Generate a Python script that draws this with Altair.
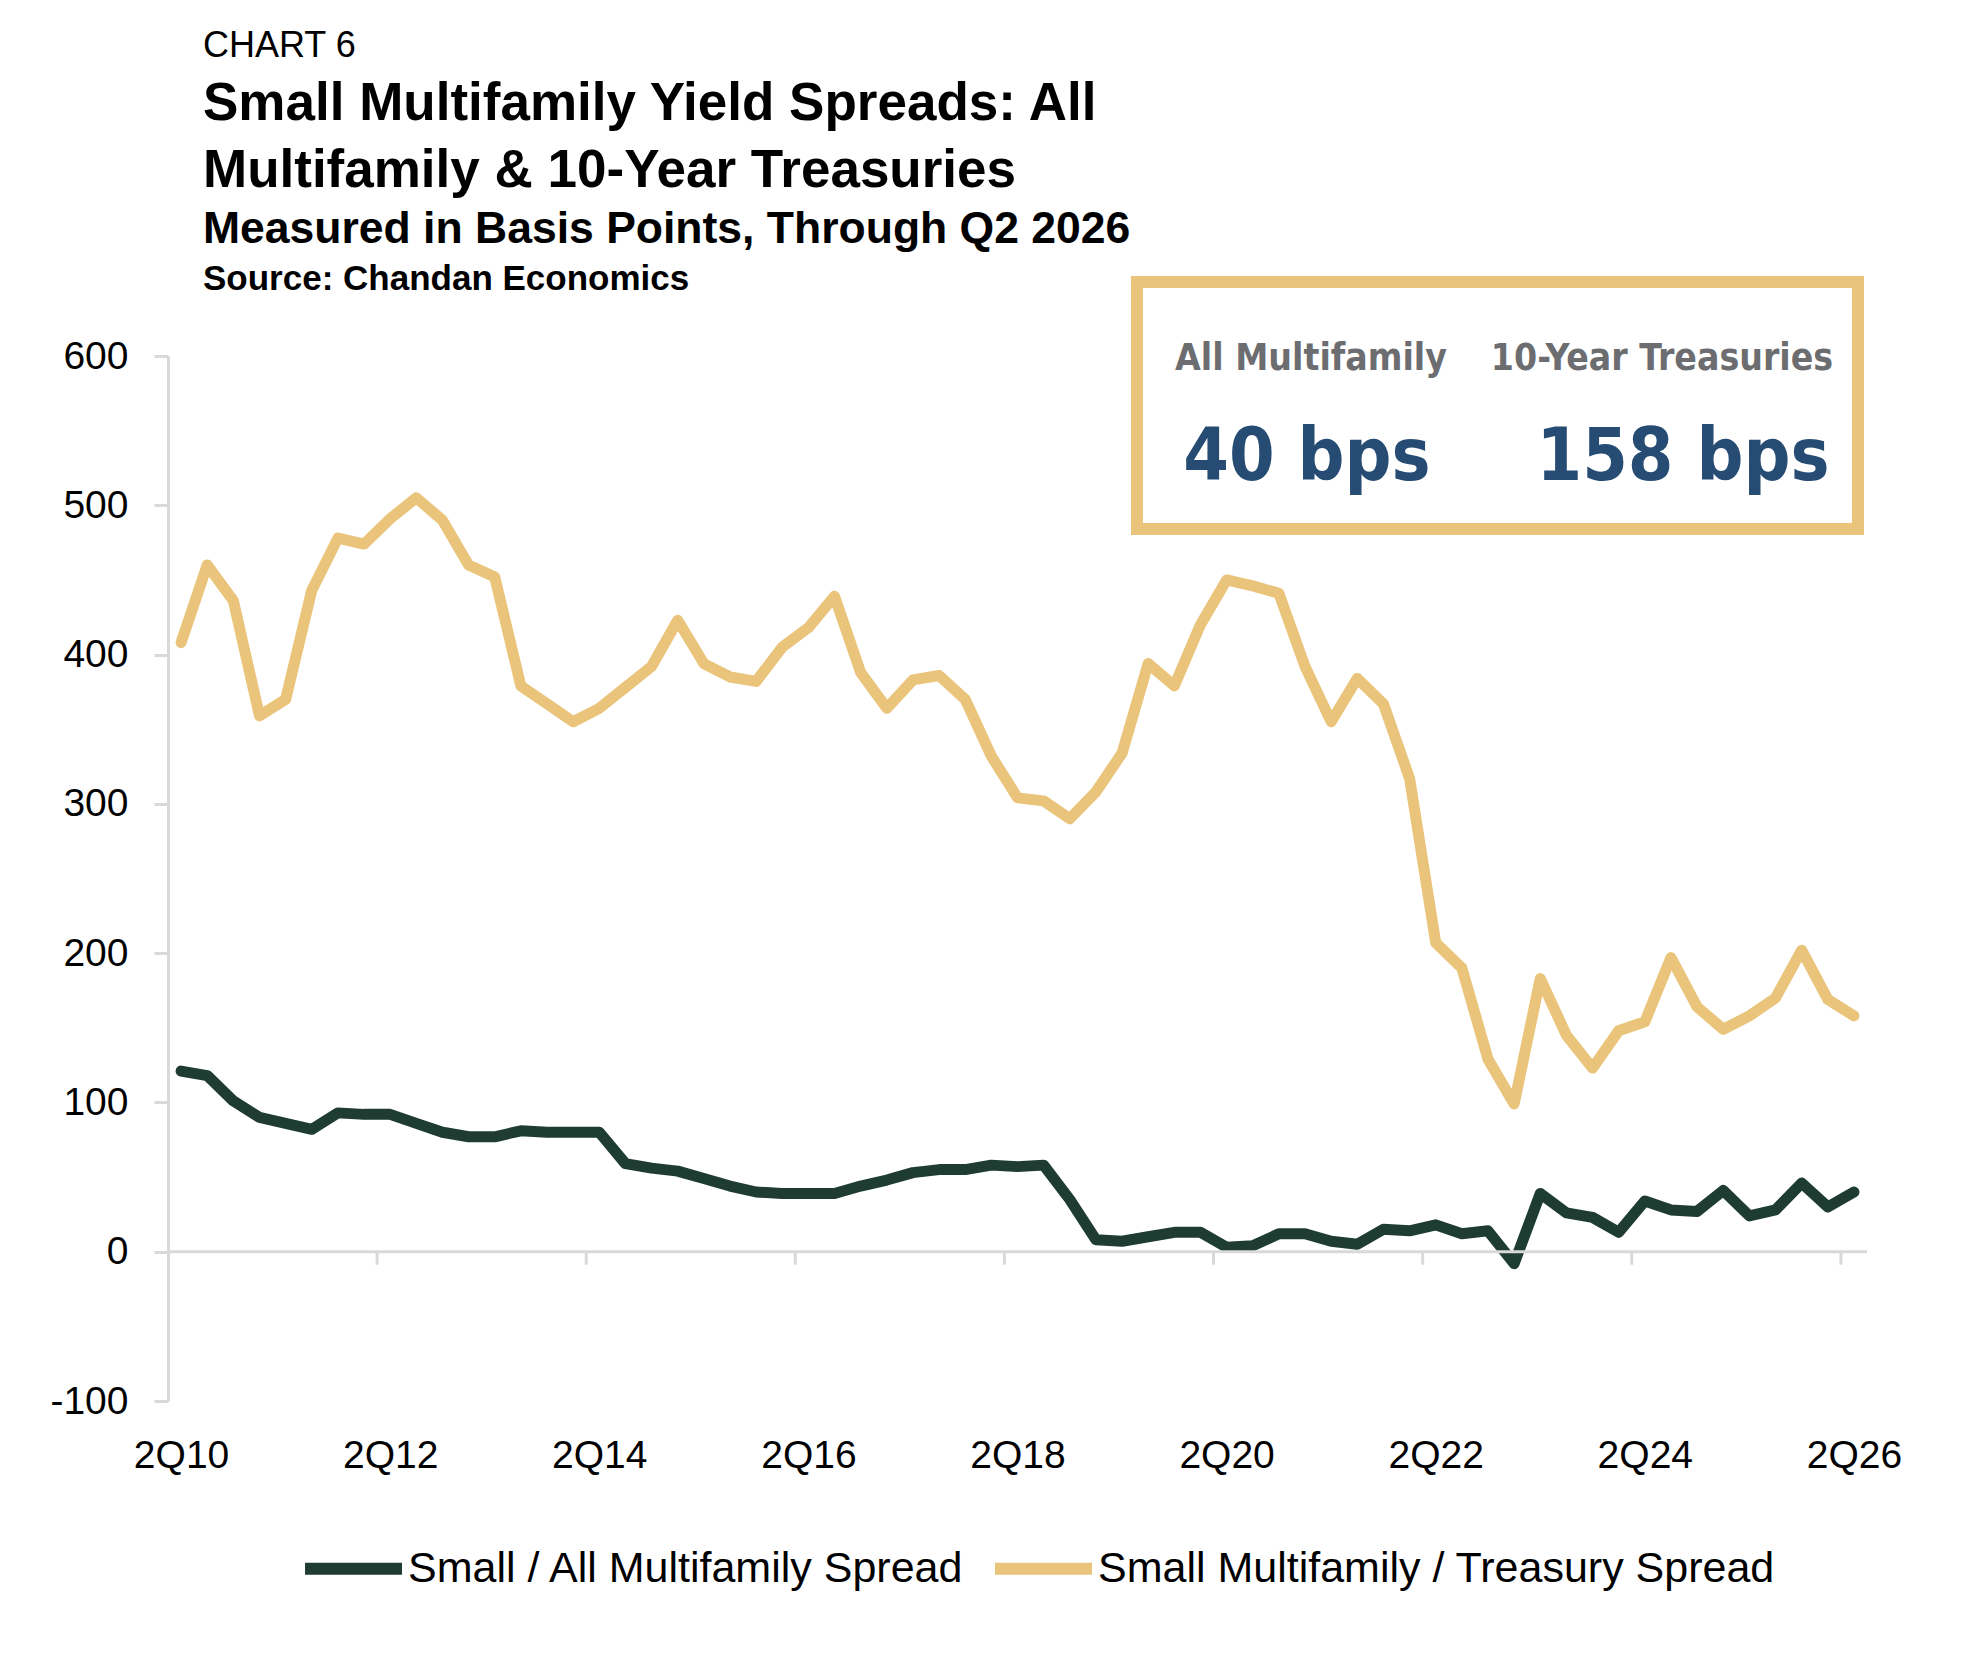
import altair as alt
import pandas as pd

# ---------------- data ----------------
quarters = []
_q, _y = 2, 10
for _ in range(65):
    quarters.append(f"{_q}Q{_y:02d}")
    _q += 1
    if _q > 4:
        _q, _y = 1, _y + 1

all_mf_spread = [121, 118, 101, 90, 86, 82, 93, 92, 92, 86, 80, 77, 77, 81, 80, 80,
                 80, 59, 56, 54, 49, 44, 40, 39, 39, 39, 44, 48, 53, 55, 55, 58,
                 57, 58, 35, 8, 7, 10, 13, 13, 3, 4, 12, 12, 7, 5, 15, 14,
                 18, 12, 14, -8, 39, 26, 23, 13, 34, 28, 27, 41, 24, 28, 46, 30,
                 40]
treasury_spread = [408, 460, 436, 359, 370, 443, 478, 474, 491, 505, 490, 460, 452, 379, 367, 355,
                   364, 378, 392, 423, 394, 385, 382, 405, 418, 439, 388, 364, 383, 386, 370, 332,
                   304, 302, 290, 308, 334, 394, 379, 420, 450, 446, 441, 392, 355, 384, 367, 317,
                   207, 190, 129, 99, 183, 145, 123, 148, 154, 197, 164, 149, 158, 170, 202, 169,
                   158]

series_names = ["Small / All Multifamily Spread", "Small Multifamily / Treasury Spread"]
series_colors = ["#1E3C32", "#E9C47A"]

tick_labels = ["2Q10", "2Q12", "2Q14", "2Q16", "2Q18", "2Q20", "2Q22", "2Q24", "2Q26"]
label_positions = [0, 8, 16, 24, 32, 40, 48, 56, 64]
tick_mark_positions = [7.5, 15.5, 23.5, 31.5, 39.5, 47.5, 55.5, 63.5]
y_ticks = [-100, 0, 100, 200, 300, 400, 500, 600]

headline_labels = ["All Multifamily", "10-Year Treasuries"]
headline_values = ["40 bps", "158 bps"]

rows = []
for i, q in enumerate(quarters):
    rows.append({"idx": i, "quarter": q, "series": series_names[0], "value": all_mf_spread[i]})
    rows.append({"idx": i, "quarter": q, "series": series_names[1], "value": treasury_spread[i]})
df = pd.DataFrame(rows)

FONT = "Liberation Sans"
NARROW = "DejaVu Sans Condensed, sans-serif"
GRAY = "#D9D9D9"
TAN = "#E9C47A"
NAVY = "#274C73"
LABEL_GRAY = "#6C6D70"

W, H = 1699, 1045

x_scale = alt.Scale(domain=[-0.5, 64.5], nice=False, zero=False)
y_scale = alt.Scale(domain=[-100, 600], nice=False, zero=False)

label_expr = "[" + ",".join(f"'{t}'" for t in tick_labels) + "][round(datum.value/8)]"

lines = alt.Chart(df).mark_line(strokeWidth=11, strokeCap="round", strokeJoin="round").encode(
    x=alt.X("idx:Q", scale=x_scale, title=None,
            axis=alt.Axis(values=label_positions, labelExpr=label_expr, domain=False, ticks=False,
                          grid=False, labelPadding=35, labelFontSize=39, labelFont=FONT,
                          labelColor="#000000", labelFlush=False, labelOverlap=False)),
    y=alt.Y("value:Q", scale=y_scale, title=None,
            axis=alt.Axis(values=y_ticks, labelExpr="'' + datum.value",
                          domain=True, domainColor=GRAY, domainWidth=3,
                          ticks=True, tickColor=GRAY, tickWidth=3, tickSize=14,
                          labelPadding=26, labelFontSize=39, labelFont=FONT,
                          labelColor="#000000", grid=False)),
    color=alt.Color("series:N",
                    scale=alt.Scale(domain=series_names, range=series_colors),
                    legend=alt.Legend(title=None, orient="none", legendX=131, legendY=1158,
                                      direction="horizontal", symbolType="stroke",
                                      symbolSize=9400, symbolStrokeWidth=12,
                                      labelFontSize=43, labelFont=FONT, labelColor="#000000",
                                      labelLimit=1000, columnPadding=6, labelOffset=0)),
)

one = pd.DataFrame({"a": [0]})

zero_line = alt.Chart(one).mark_rule(color=GRAY, strokeWidth=3).encode(
    y=alt.datum(0)
)

tick_marks = alt.Chart(pd.DataFrame({"pos": tick_mark_positions})).mark_rule(
    color=GRAY, strokeWidth=3
).encode(
    x=alt.X("pos:Q"),
    y=alt.datum(0),
    y2=alt.datum(-8.7),
)


def text_layer(txt, x, y, size, weight="normal", color="#000000", align="left", font=FONT):
    return alt.Chart(one).mark_text(
        text=txt, fontSize=size, fontWeight=weight, color=color, align=align,
        baseline="alphabetic", font=font
    ).encode(x=alt.value(x), y=alt.value(y))


box = alt.Chart(one).mark_rect(fill="white", stroke=TAN, strokeWidth=12).encode(
    x=alt.value(969), x2=alt.value(1690), y=alt.value(-74), y2=alt.value(173)
)

header = [
    text_layer("CHART 6", 35, -299, 36),
    text_layer("Small Multifamily Yield Spreads: All", 35, -236, 53, "bold"),
    text_layer("Multifamily & 10-Year Treasuries", 35, -169, 53, "bold"),
    text_layer("Measured in Basis Points, Through Q2 2026", 35, -113, 44.5, "bold"),
    text_layer("Source: Chandan Economics", 35, -66, 35, "bold"),
]

box_texts = [
    text_layer(headline_labels[0], 1143, 14, 37, "bold", LABEL_GRAY, "center", NARROW),
    text_layer(headline_labels[1], 1494, 14, 37, "bold", LABEL_GRAY, "center", NARROW),
    text_layer(headline_values[0], 1139, 124, 73, "bold", NAVY, "center", NARROW),
    text_layer(headline_values[1], 1515, 124, 73, "bold", NAVY, "center", NARROW),
]

chart = alt.layer(lines, zero_line, tick_marks, box, *box_texts, *header).properties(
    width=W, height=H,
    autosize=alt.AutoSizeParams(type="none"),
    padding={"left": 160, "top": 348, "right": 100, "bottom": 240},
    background="white",
).configure_view(strokeWidth=0)

chart.save("out.html", embed_options={"renderer": "svg", "actions": False})
